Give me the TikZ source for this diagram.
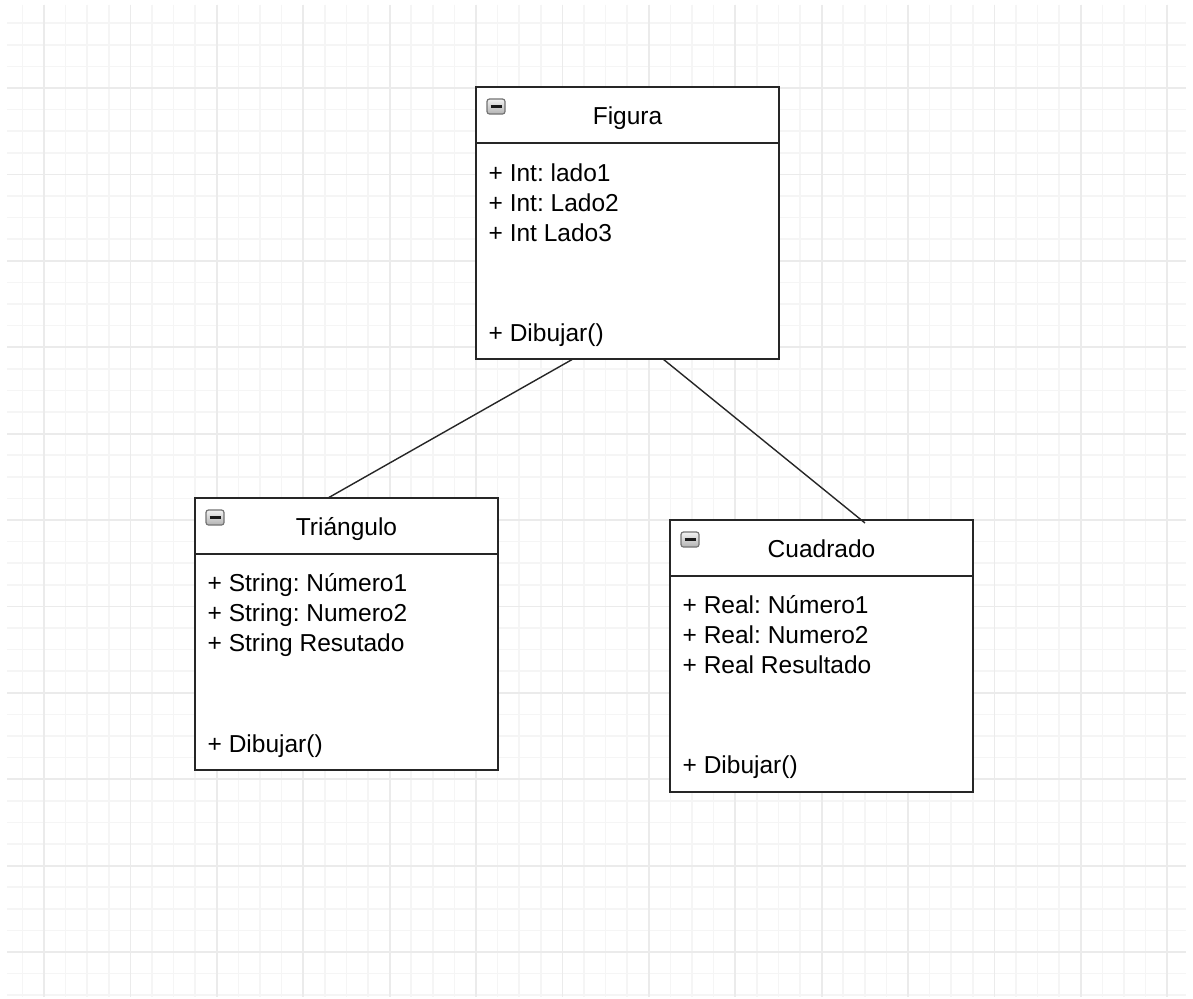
\documentclass[tikz,border=0pt]{standalone}
\usepackage{fontspec}
\setmainfont{Liberation Sans}
\usetikzlibrary{calc}
\begin{document}
\frenchspacing
\begin{tikzpicture}[x=1pt,y=-1pt,
  gridminor/.style={draw=black!4, line width=1.6pt},
  gridmajor/.style={draw=black!8, line width=1.8pt},
  umlbox/.style={draw=black!85, line width=1.8pt, fill=white,
    minimum width=303pt, minimum height=272pt, anchor=north west,
    inner sep=0pt, outer sep=0pt},
  rule/.style={draw=black!85, line width=1.8pt},
  umltext/.style={font=\fontsize{24.5pt}{30pt}\selectfont, text=black,
    inner sep=0pt},
  attr/.style={umltext, anchor=base west},
  title/.style={umltext, anchor=base},
  collapse/.style={draw=black!55, line width=1.2pt, rounded corners=2.5pt,
    top color=black!5, bottom color=black!30},
  minus/.style={draw=black!90, line width=2.2pt},
  link/.style={draw=black!85, line width=1.4pt}
]
% page frame
\useasboundingbox (0,0) rectangle (1193,998);
\fill[white] (0,0) rectangle (1193,998);

% background grid
\foreach \i in {0,...,53}{
  \draw[gridminor] (22.4+21.6*\i,5) -- (22.4+21.6*\i,997);
}
\foreach \j in {1,...,46}{
  \draw[gridminor] (7,1.6+21.6*\j) -- (1186,1.6+21.6*\j);
}
\foreach \i in {0,...,13}{
  \draw[gridmajor] (44+86.4*\i,5) -- (44+86.4*\i,997);
}
\foreach \j in {0,...,10}{
  \draw[gridmajor] (7,88+86.4*\j) -- (1186,88+86.4*\j);
}

% class boxes
\node[umlbox] (fig) at (476,87) {};
\node[umlbox] (tri) at (195,498) {};
\node[umlbox] (cua) at (670,520) {};

\foreach \b/\name in {fig/Figura, tri/Tri\'angulo, cua/Cuadrado}{
  \draw[rule] ($(\b.north west)+(0,56)$) -- ($(\b.north east)+(0,56)$);
  \draw[collapse] ($(\b.north west)+(11,12)$) rectangle ($(\b.north west)+(29,27)$);
  \draw[minus] ($(\b.north west)+(14.5,19.5)$) -- ($(\b.north west)+(25.5,19.5)$);
  \node[title] at ($(\b.north)+(0,37.5)$) {\name};
}

% Figura members
\node[attr] (f1) at ($(fig.north west)+(12.5,94.5)$) {+ Int: lado1};
\node[attr] (f2) at ($(fig.north west)+(12.5,124.5)$) {+ Int: Lado2};
\node[attr] (f3) at ($(fig.north west)+(12.5,154.5)$) {+ Int Lado3};
\node[attr] (f4) at ($(fig.north west)+(12.5,254.5)$) {+ Dibujar()};

% Triangulo members
\node[attr] (t1) at ($(tri.north west)+(12.5,93)$) {+ String: Número1};
\node[attr] (t2) at ($(tri.north west)+(12.5,123)$) {+ String: Numero2};
\node[attr] (t3) at ($(tri.north west)+(12.5,153)$) {+ String Resutado};
\node[attr] (t4) at ($(tri.north west)+(12.5,254)$) {+ Dibujar()};

% Cuadrado members
\node[attr] (c1) at ($(cua.north west)+(12.5,93)$) {+ Real: Número1};
\node[attr] (c2) at ($(cua.north west)+(12.5,123)$) {+ Real: Numero2};
\node[attr] (c3) at ($(cua.north west)+(12.5,153)$) {+ Real Resultado};
\node[attr] (c4) at ($(cua.north west)+(12.5,253)$) {+ Dibujar()};

% associations
\draw[link] ($(fig.south)+(-54.5,0)$) -- ($(tri.north)+(-18.5,0)$);
\draw[link] ($(fig.south)+(35.5,0)$) -- ($(cua.north)+(43.5,3)$);
\end{tikzpicture}
\end{document}
